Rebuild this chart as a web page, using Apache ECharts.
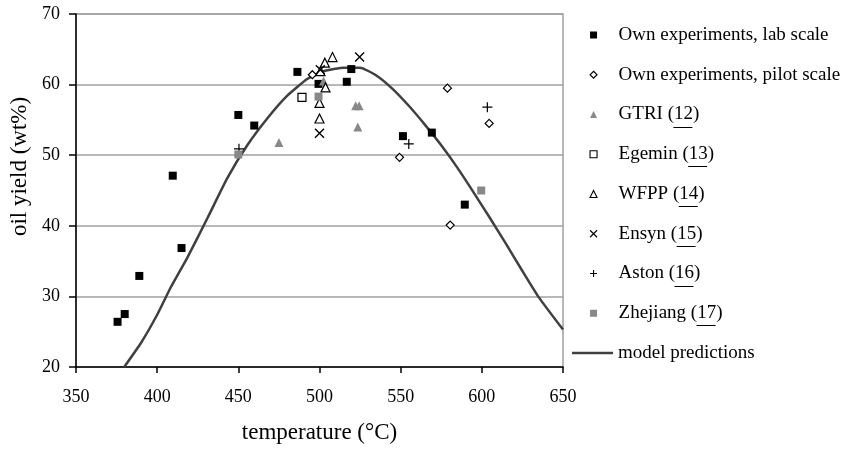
<!DOCTYPE html>
<html>
<head>
<meta charset="utf-8">
<script src="https://cdn.jsdelivr.net/npm/echarts@6/dist/echarts.min.js"></script>
<style>
  html, body { margin: 0; padding: 0; background: #fff; }
  #chart { width: 843px; height: 449px; }
</style>
</head>
<body>
<div id="chart"></div>
<script>
// data: [temperature (°C), oil yield (wt%)]
const labScale = [
  [375.6, 26.4], [380, 27.5], [389, 32.9], [409.6, 47.1], [415, 36.85],
  [450, 55.7], [459.8, 54.2], [486.4, 61.8], [499.4, 60.1], [516.8, 60.4],
  [519.6, 62.2], [551.4, 52.7], [569.2, 53.2], [589.5, 43.0]
]
const pilotScale = [[495.6, 61.4], [578.8, 59.5], [604.5, 54.5], [549.3, 49.7], [580.5, 40.1]]
const gtri = [[475, 51.8], [502.5, 60.5], [522.3, 57.0], [524.4, 57.0], [523.6, 54.0]]
const egemin = [[489.2, 58.2]]
const wfpp = [[500, 57.4], [500, 55.2], [503.7, 59.6], [503.3, 63.1], [508, 63.9], [500.6, 61.9]]
const ensyn = [[500, 53.1], [524.7, 63.9], [500.5, 62.1]]
const aston = [[450.4, 50.9], [555, 51.6], [603.4, 56.8]]
const zhejiang = [[450, 50.1], [499.4, 58.3], [599.6, 45.0]]
const modelCurve = [
  [379.7, 20], [390, 23.4], [400, 27.4], [408.4, 31.3], [418.6, 35.5], [431, 41.1],
  [443.2, 46.75], [455.5, 51.4], [467.8, 55.2], [480, 58.4], [492.4, 60.8], [502.6, 61.9],
  [515, 62.4], [525, 62.4], [535, 61.3], [545, 59.4], [555, 57.0], [565, 54.3],
  [575, 51.4], [585, 48.2], [595, 44.7], [605, 41.1], [615, 37.4], [625, 33.6],
  [635, 29.9], [650, 25.3]
]

// legend entries (numbers in brackets are underlined)
const markerNames = [
  'Own experiments, lab scale', 'Own experiments, pilot scale', 'GTRI (12)', 'Egemin (13)',
  'WFPP (14)', 'Ensyn (15)', 'Aston (16)', 'Zhejiang (17)'
]
const lineName = 'model predictions'

const FONT = '"Liberation Serif", "Times New Roman", serif'
const CROSS = 'path://M0,0L10,10M10,0L0,10'
const PLUS = 'path://M5,0L5,10M0,5L10,5'

const chart = echarts.init(document.getElementById('chart'))

// legend layout
const legendTop = 25
const legendFont = 19
const rowHeight = 20
const rowPitch = 39.75
const textX = 618

function scatter(name, data, symbol, size, style) {
  return {
    type: 'scatter',
    name: name,
    data: data,
    symbol: symbol,
    symbolSize: size,
    itemStyle: Object.assign({ opacity: 1 }, style),
    z: 3
  }
}

// underlines under the reference numbers in the legend
function underlines() {
  const ctx = document.createElement('canvas').getContext('2d')
  ctx.font = legendFont + 'px ' + FONT
  const out = []
  markerNames.forEach((name, i) => {
    const m = name.match(/^(.*\()(\d+)\)$/)
    if (!m) return
    const x0 = textX + ctx.measureText(m[1]).width
    const x1 = x0 + ctx.measureText(m[2]).width
    const y = Math.round(legendTop + rowHeight / 2 + i * rowPitch + 12) + 0.5
    out.push({
      type: 'line',
      shape: { x1: x0, y1: y, x2: x1, y2: y },
      style: { stroke: '#000', lineWidth: 1 },
      silent: true
    })
  })
  return out
}

const legendText = {
  fontFamily: FONT,
  fontSize: legendFont,
  lineHeight: rowHeight,
  color: '#000'
}

const option = {
  backgroundColor: '#fff',
  animation: false,
  textStyle: { fontFamily: FONT },
  grid: {
    left: 76,
    right: 280,
    top: 14,
    bottom: 78,
    show: true,
    borderColor: '#a0a0a0',
    borderWidth: 1.5,
    containLabel: false
  },
  legend: [
    {
      // markers
      orient: 'vertical',
      left: 589.5,
      top: legendTop,
      padding: 0,
      itemWidth: 7,
      itemHeight: 7,
      itemGap: rowPitch - rowHeight,
      itemStyle: { borderWidth: 1.1 },
      data: markerNames,
      textStyle: Object.assign({ padding: [0, 0, 0, 16.5] }, legendText)
    },
    {
      // model line
      orient: 'vertical',
      left: 572,
      top: legendTop + markerNames.length * rowPitch,
      padding: 0,
      itemWidth: 41,
      itemHeight: 2.5,
      icon: 'rect',
      data: [lineName],
      textStyle: legendText
    }
  ],
  xAxis: {
    type: 'value',
    min: 350,
    max: 650,
    interval: 50,
    name: 'temperature (°C)',
    nameLocation: 'middle',
    nameGap: 54,
    nameTextStyle: { fontFamily: FONT, fontSize: 23, color: '#000' },
    axisLine: { show: true, onZero: false, lineStyle: { color: '#000', width: 1.5 } },
    axisTick: { show: true, length: 6, lineStyle: { color: '#000', width: 1.5 } },
    axisLabel: { fontFamily: FONT, fontSize: 18, color: '#000', margin: 21 },
    splitLine: { show: false }
  },
  yAxis: {
    type: 'value',
    min: 20,
    max: 70,
    interval: 10,
    name: 'oil yield (wt%)',
    nameLocation: 'middle',
    nameGap: 38,
    nameTextStyle: { fontFamily: FONT, fontSize: 23, color: '#000', padding: [0, 0, 0, 48] },
    axisLine: { show: true, onZero: false, lineStyle: { color: '#000', width: 1.5 } },
    axisTick: { show: true, length: 7, lineStyle: { color: '#000', width: 1.5 } },
    axisLabel: { fontFamily: FONT, fontSize: 18, color: '#000', margin: 16 },
    splitLine: { show: true, lineStyle: { color: '#a0a0a0', width: 1.5 } }
  },
  series: [
    scatter('Own experiments, lab scale', labScale, 'rect', 8, { color: '#000' }),
    scatter('Own experiments, pilot scale', pilotScale, 'diamond', 8,
      { color: '#fff', borderColor: '#000', borderWidth: 1.2 }),
    scatter('GTRI (12)', gtri, 'triangle', 9, { color: '#888' }),
    scatter('Egemin (13)', egemin, 'rect', 8,
      { color: '#fff', borderColor: '#000', borderWidth: 1.2 }),
    scatter('WFPP (14)', wfpp, 'triangle', 9,
      { color: '#fff', borderColor: '#000', borderWidth: 1.2 }),
    scatter('Ensyn (15)', ensyn, CROSS, 9,
      { color: 'transparent', borderColor: '#000', borderWidth: 1.4 }),
    scatter('Aston (16)', aston, PLUS, 10,
      { color: 'transparent', borderColor: '#000', borderWidth: 1.2 }),
    scatter('Zhejiang (17)', zhejiang, 'rect', 8, { color: '#888' }),
    {
      type: 'line',
      name: lineName,
      data: modelCurve,
      smooth: 0.15,
      showSymbol: false,
      symbol: 'none',
      lineStyle: { color: '#404040', width: 2.5 },
      itemStyle: { color: '#404040' },
      z: 2
    }
  ],
  graphic: underlines()
}

chart.setOption(option)
</script>
</body>
</html>
